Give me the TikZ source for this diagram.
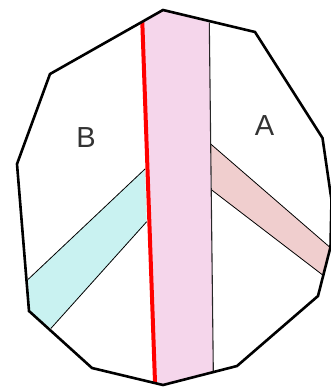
\documentclass[tikz,border=0pt]{standalone}
\usepackage{fontspec}
\setmainfont{Liberation Sans}
\definecolor{midpink}{RGB}{245,214,235}
\definecolor{apink}{RGB}{240,206,206}
\definecolor{bcyan}{RGB}{201,242,241}
\definecolor{labelgray}{RGB}{51,51,51}
\begin{document}
\begin{tikzpicture}[x=1pt,y=-1pt,
  outline/.style={line width=2.6pt,line join=miter,black},
  thinedge/.style={line width=0.8pt,black},
  redline/.style={line width=4pt,red},
  lbl/.style={font=\fontsize{29}{29}\selectfont,text=labelgray,inner sep=0pt}]
\useasboundingbox (0,0) rectangle (331,388);
\begin{scope}
\clip (0,0) rectangle (331,388);
% coordinates
\coordinate (P1) at (163,10);
\coordinate (P2) at (255,32);
\coordinate (P3) at (322.5,138);
\coordinate (P4) at (331.5,200);
\coordinate (P5) at (330.5,247);
\coordinate (P6) at (318,296);
\coordinate (P7) at (237,366);
\coordinate (P8) at (163,385);
\coordinate (P9) at (92,368);
\coordinate (P10) at (29,311);
\coordinate (P11) at (17,164);
\coordinate (P12) at (50,74);
\coordinate (Rt) at (142.3,22.3);
\coordinate (Rb) at (155,382.3);
\coordinate (Vt) at (209.3,22.7);
\coordinate (Vb) at (213.3,371.3);
% A strip
\coordinate (A1) at (210.7,144);
\coordinate (A2) at (329.6,247);
\coordinate (A3) at (322.7,275);
\coordinate (A4) at (211.7,190);
% B strip
\coordinate (B1) at (145,169);
\coordinate (B2) at (28.2,279.3);
\coordinate (B3) at (51,328.3);
\coordinate (B4) at (146.7,221.7);
% fills
\fill[midpink] (Rt) -- (P1) -- (Vt) -- (Vb) -- (P8) -- (Rb) -- cycle;
\fill[apink] (A1) -- (A2) -- (A3) -- (A4) -- cycle;
\fill[bcyan] (B1) -- (B2) -- (P10) -- (B3) -- (B4) -- cycle;
% thin edges
\draw[thinedge] (A1) -- (A2);
\draw[thinedge] (A4) -- (A3);
\draw[thinedge] (B1) -- (B2);
\draw[thinedge] (B4) -- (B3);
\draw[line width=1.1pt,black!85] (Vt) -- (Vb);
% red line
\draw[redline] (Rt) -- (Rb);
% outline
\draw[outline] (P1) -- (P2) -- (P3) -- (P4) -- (P5) -- (P6) -- (P7) -- (P8) -- (P9) -- (P10) -- (P11) -- (P12) -- cycle;
\end{scope}
\node[lbl] (B) at (86,138) {B};
\node[lbl] (A) at (264.5,126) {A};
\end{tikzpicture}
\end{document}
